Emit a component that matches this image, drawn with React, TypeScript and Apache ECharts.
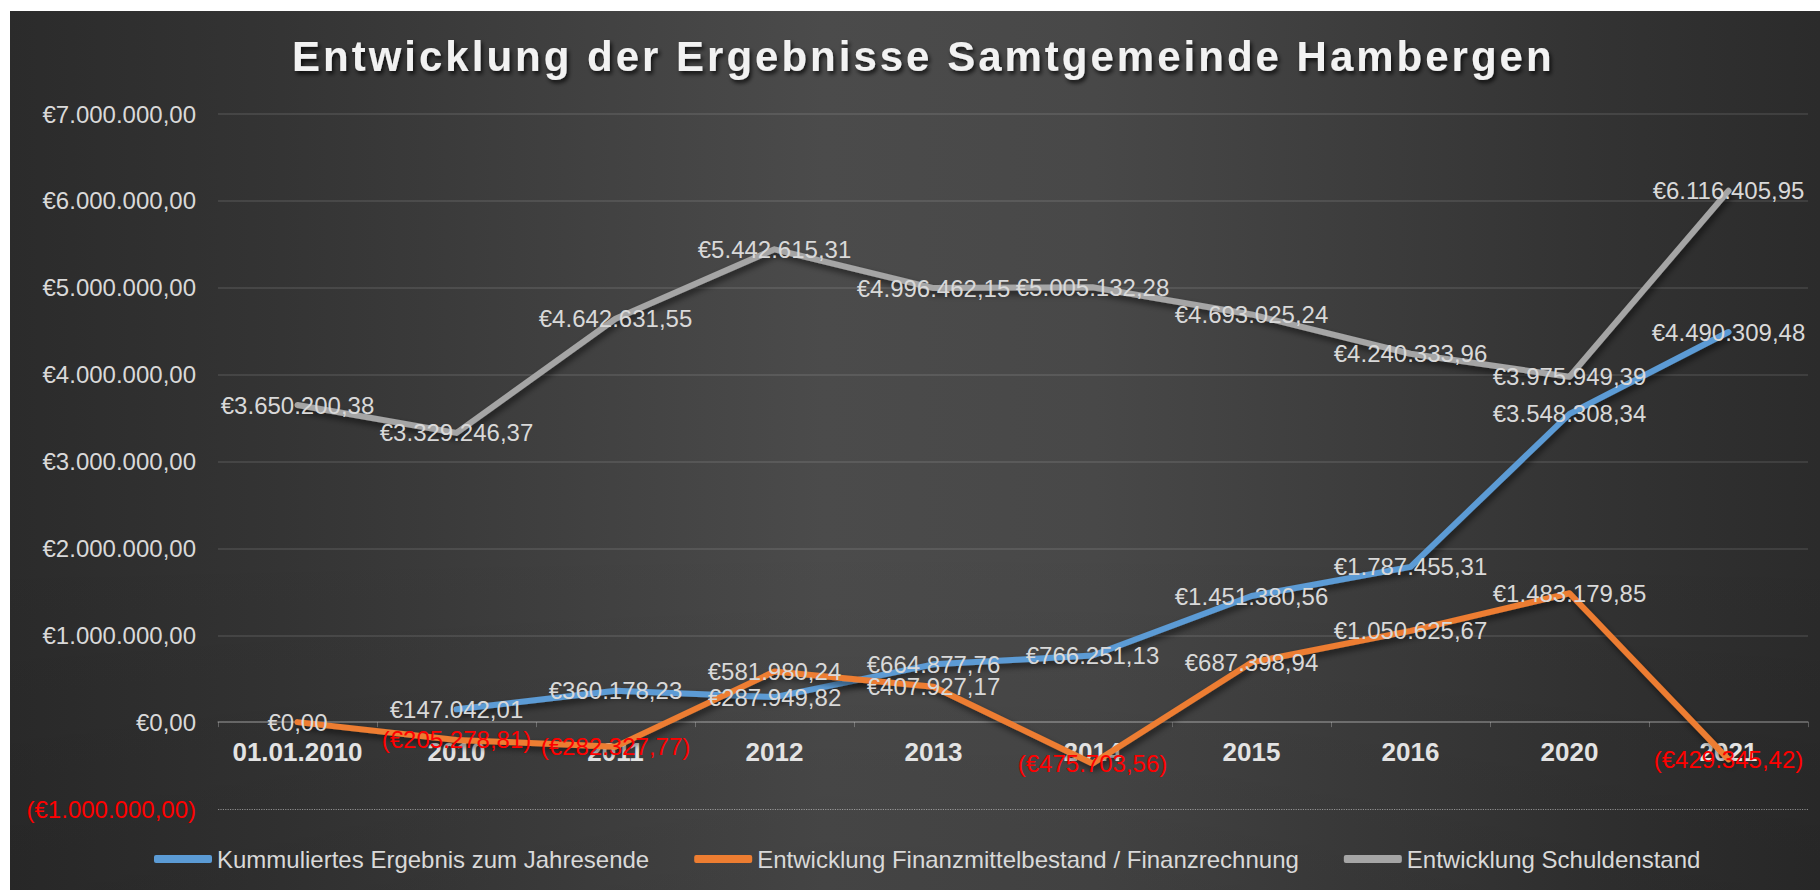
import React, { useEffect, useRef } from 'react';
import * as echarts from 'echarts';

const TITLE = 'Entwicklung der Ergebnisse Samtgemeinde Hambergen';
const categories = ['01.01.2010', '2010', '2011', '2012', '2013', '2014', '2015', '2016', '2020', '2021'];
const seriesNames = [
  'Kummuliertes Ergebnis zum Jahresende',
  'Entwicklung Finanzmittelbestand / Finanzrechnung',
  'Entwicklung Schuldenstand',
];
const ergebnis: (number | null)[] = [null, 147042.01, 360178.23, 287949.82, 664877.76, 766251.13, 1451380.56, 1787455.31, 3548308.34, 4490309.48];
const finanzmittel: (number | null)[] = [0, -205278.81, -282327.77, 581980.24, 407927.17, -475703.56, 687398.94, 1050625.67, 1483179.85, -429345.42];
const schulden: (number | null)[] = [3650200.38, 3329246.37, 4642631.55, 5442615.31, 4996462.15, 5005132.28, 4693025.24, 4240333.96, 3975949.39, 6116405.95];
const yMin = -1000000;
const yMax = 7000000;
const yStep = 1000000;
const colors = ['#5B9BD5', '#ED7D31', '#A5A5A5'];

const FONT = '"Liberation Sans", Arial, sans-serif';
const TEXT = '#D9D9D9';
const NEG = '#FF0000';

const GRID = { left: 218, right: 12, top: 114, bottom: 81 };
const CHART_H = 890;

function euro(v: number): string {
  const abs = Math.abs(v);
  const [intPart, dec] = abs.toFixed(2).split('.');
  const grouped = intPart.replace(/\B(?=(\d{3})+(?!\d))/g, '.');
  const s = '€' + grouped + ',' + dec;
  return v < 0 ? '(' + s + ')' : s;
}

function makeSeries(name: string, values: (number | null)[], color: string, extra: any = {}) {
  return {
    name,
    type: 'line',
    data: values.map((v) =>
      v === null ? '-' : { value: v, label: v < 0 ? { color: NEG } : undefined }
    ),
    symbol: 'circle',
    symbolSize: 1,
    showSymbol: true,
    itemStyle: { color },
    lineStyle: {
      color,
      width: 6,
      cap: 'round',
      join: 'round',
      shadowColor: 'rgba(0,0,0,0.55)',
      shadowBlur: 6,
      shadowOffsetX: 2,
      shadowOffsetY: 4,
    },
    label: {
      show: true,
      position: 'inside',
      formatter: (p: any) => euro(Number(p.value)),
      color: TEXT,
      fontSize: 24,
      fontFamily: FONT,
    },
    emphasis: { disabled: true },
    animation: false,
    ...extra,
  };
}

export default function App() {
  const ref = useRef<HTMLDivElement>(null);
  useEffect(() => {
    if (!ref.current) return;
    const chart = echarts.init(ref.current, undefined, { renderer: 'svg' });
    const splitColors = [] as string[];
    for (let v = yMin; v <= yMax; v += yStep) {
      splitColors.push(v === yMin ? 'rgba(0,0,0,0)' : 'rgba(255,255,255,0.13)');
    }
    // put the category axis on the zero line
    const plotH = CHART_H - GRID.top - GRID.bottom;
    const zeroOffset = -((0 - yMin) / (yMax - yMin)) * plotH;
    chart.setOption({
      animation: false,
      backgroundColor: '#ffffff',
      graphic: {
        elements: [
          {
            type: 'rect',
            left: 10,
            top: 11,
            z: -10,
            silent: true,
            shape: { width: 1810, height: 879 },
            style: {
              fill: new echarts.graphic.LinearGradient(0, 0, 1, 0, [
                { offset: 0, color: '#2b2b2b' },
                { offset: 0.15, color: '#343434' },
                { offset: 0.45, color: '#4b4b4b' },
                { offset: 0.6, color: '#484848' },
                { offset: 0.87, color: '#333333' },
                { offset: 1, color: '#2b2b2b' },
              ]),
            },
          },
          {
            type: 'rect',
            left: 10,
            top: 11,
            z: -9,
            silent: true,
            shape: { width: 1810, height: 879 },
            style: {
              fill: new echarts.graphic.LinearGradient(0, 0, 0, 1, [
                { offset: 0, color: 'rgba(0,0,0,0)' },
                { offset: 0.6, color: 'rgba(0,0,0,0)' },
                { offset: 1, color: 'rgba(0,0,0,0.1)' },
              ]),
            },
          },
        ],
      },
      title: {
        text: TITLE,
        left: 292,
        top: 35,
        padding: 0,
        textStyle: {
          color: '#F2F2F2',
          fontSize: 42,
          fontWeight: 'bold',
          fontFamily: FONT,
          textShadowColor: 'rgba(0,0,0,0.75)',
          textShadowBlur: 4,
          textShadowOffsetX: 2,
          textShadowOffsetY: 3,
        },
      },
      legend: {
        data: seriesNames.map((n) => ({ name: n, icon: 'roundRect' })),
        left: 154,
        top: 847,
        padding: 0,
        itemWidth: 58,
        itemHeight: 8,
        itemGap: 45,
        textStyle: { color: TEXT, fontSize: 24, fontFamily: FONT },
      },
      grid: { ...GRID, outerBoundsMode: 'none' },
      xAxis: {
        type: 'category',
        data: categories,
        boundaryGap: true,
        position: 'bottom',
        offset: zeroOffset,
        axisLine: { onZero: false, lineStyle: { color: 'rgba(255,255,255,0.25)', width: 1.5 } },
        axisTick: { show: true, length: 5, lineStyle: { color: 'rgba(255,255,255,0.25)' } },
        axisLabel: { interval: 0, hideOverlap: false, color: '#E3E3E3', fontSize: 26, fontWeight: 'bold', fontFamily: FONT, margin: 17 },
        splitLine: { show: false },
      },
      yAxis: {
        type: 'value',
        min: yMin,
        max: yMax,
        interval: yStep,
        axisLine: { show: false },
        axisTick: { show: false },
        axisLabel: {
          formatter: (v: number) => euro(Number(v)),
          color: (v: any) => (Number(v) < 0 ? NEG : TEXT),
          fontSize: 24,
          fontFamily: FONT,
          margin: 22,
        },
        splitLine: { show: true, lineStyle: { color: splitColors, width: 1.5 } },
      },
      series: [
        makeSeries(seriesNames[0], ergebnis, colors[0]),
        makeSeries(seriesNames[1], finanzmittel, colors[1]),
        makeSeries(seriesNames[2], schulden, colors[2], {
          markLine: {
            silent: true,
            animation: false,
            symbol: ['none', 'none'],
            label: { show: false },
            lineStyle: { type: 'dotted', color: 'rgba(255,255,255,0.45)', width: 1.2, shadowBlur: 0, shadowColor: 'rgba(0,0,0,0)' },
            emphasis: { disabled: true },
            data: [{ yAxis: yMin }],
          },
        }),
      ],
    });
    const texts = ref.current.querySelectorAll('text');
    texts.forEach((t) => {
      if (t.textContent === TITLE) {
        t.setAttribute('letter-spacing', '3');
        (t as SVGTextElement).style.letterSpacing = '3px';
      }
    });
    return () => chart.dispose();
  }, []);
  return (
    <div
      ref={ref}
      style={{ position: 'absolute', left: 0, top: 0, width: 1820, height: 890 }}
    />
  );
}
